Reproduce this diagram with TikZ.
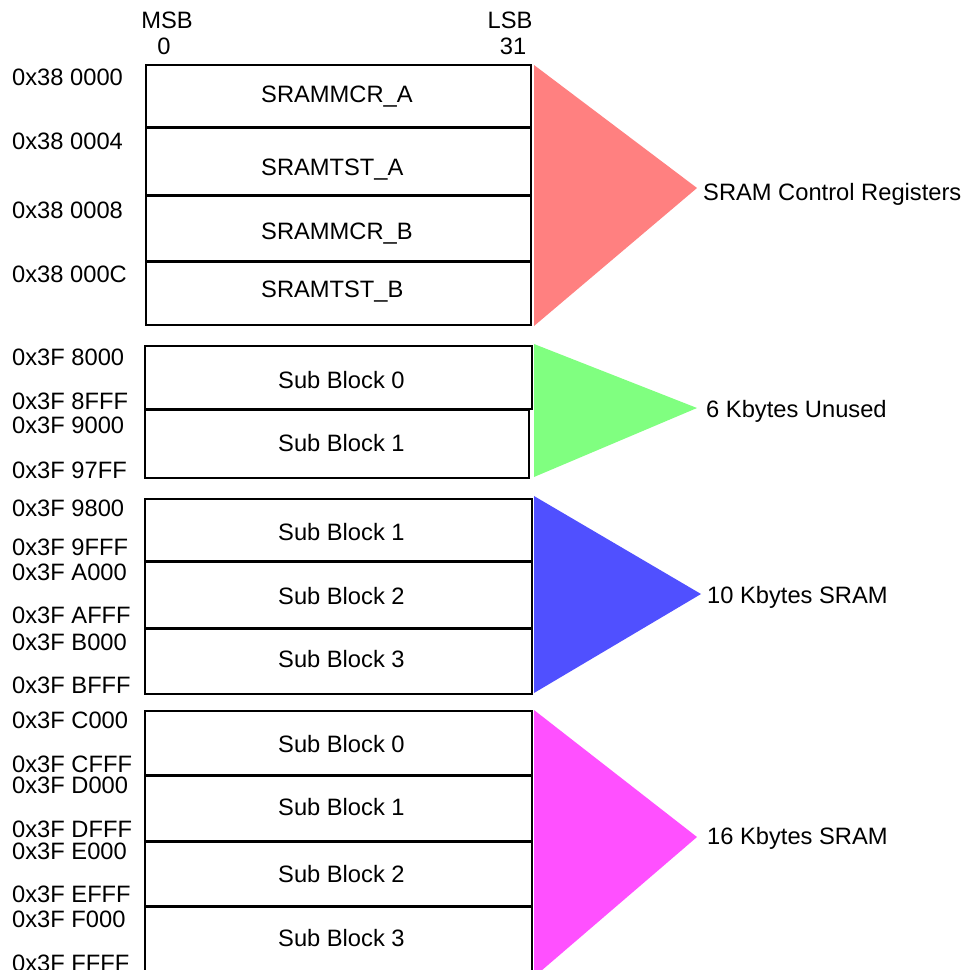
\documentclass[tikz,border=0pt]{standalone}
\usepackage{fontspec}
\setmainfont{Liberation Sans}
\definecolor{tred}{HTML}{FF8080}
\definecolor{tgreen}{HTML}{80FF80}
\definecolor{tblue}{HTML}{5050FF}
\definecolor{tmag}{HTML}{FF50FF}
\tikzset{
  cellline/.style={draw=black, line width=2pt},
  txt/.style={font=\fontsize{23.7}{28}\selectfont, inner sep=0pt, text height=17pt, text depth=0pt},
  addr/.style={txt, anchor=west},
  side/.style={txt, anchor=west},
  reg/.style={txt, anchor=west},
}
\begin{document}
\begin{tikzpicture}[x=1pt,y=-1pt]
\useasboundingbox (0,0) rectangle (968,970);
\clip (0,0) rectangle (968,970);
\fill[white] (0,0) rectangle (968,970);

% header
\node[txt] (msb) at (167,20) {MSB};
\node[txt] (bit0) at (164,46) {0};
\node[txt] (lsb) at (510,20) {LSB};
\node[txt] (bit31) at (513,46) {31};

% triangles
\fill[tred] (534,65) -- (697,188) -- (534,326) -- cycle;
\fill[tgreen] (534,344) -- (697,408) -- (534,477) -- cycle;
\fill[tblue] (534,496) -- (701,594) -- (534,693) -- cycle;
\fill[tmag] (534,710) -- (697,837) -- (534,977) -- cycle;

% section 1: control registers
\draw[cellline] (146,65) rectangle (531,127);
\draw[cellline] (146,128) rectangle (531,195);
\draw[cellline] (146,196) rectangle (531,261);
\draw[cellline] (146,262) rectangle (531,325);
\node[reg] (r1) at (261,94) {SRAMMCR\_A};
\node[reg] (r2) at (261,167) {SRAMTST\_A};
\node[reg] (r3) at (261,231) {SRAMMCR\_B};
\node[reg] (r4) at (261,289) {SRAMTST\_B};

% section 2: unused
\draw[cellline] (145,346) rectangle (532,409);
\draw[cellline] (145,410) rectangle (529,478);
\node[reg] (u0) at (278,380) {Sub Block 0};
\node[reg] (u1) at (278,443) {Sub Block 1};

% section 3: 10K
\draw[cellline] (145,499) rectangle (532,561);
\draw[cellline] (145,562) rectangle (532,628);
\draw[cellline] (145,629) rectangle (532,694);
\node[reg] (a1) at (278,532) {Sub Block 1};
\node[reg] (a2) at (278,596) {Sub Block 2};
\node[reg] (a3) at (278,659) {Sub Block 3};

% section 4: 16K
\draw[cellline] (145,711) rectangle (532,775);
\draw[cellline] (145,776) rectangle (532,841);
\draw[cellline] (145,842) rectangle (532,906);
\draw[cellline] (145,907) rectangle (532,985);
\node[reg] (b0) at (278,744) {Sub Block 0};
\node[reg] (b1) at (278,807) {Sub Block 1};
\node[reg] (b2) at (278,874) {Sub Block 2};
\node[reg] (b3) at (278,938) {Sub Block 3};

% addresses
\node[addr] (ad1) at (12,77) {0x38 0000};
\node[addr] (ad2) at (12,141) {0x38 0004};
\node[addr] (ad3) at (12,210) {0x38 0008};
\node[addr] (ad4) at (12,274) {0x38 000C};
\node[addr] (ad5) at (12,357) {0x3F 8000};
\node[addr] (ad6) at (12,401) {0x3F 8FFF};
\node[addr] (ad7) at (12,425) {0x3F 9000};
\node[addr] (ad8) at (12,470) {0x3F 97FF};
\node[addr] (ad9) at (12,508) {0x3F 9800};
\node[addr] (ad10) at (12,547) {0x3F 9FFF};
\node[addr] (ad11) at (12,572) {0x3F A000};
\node[addr] (ad12) at (12,615) {0x3F AFFF};
\node[addr] (ad13) at (12,642) {0x3F B000};
\node[addr] (ad14) at (12,685) {0x3F BFFF};
\node[addr] (ad15) at (12,720) {0x3F C000};
\node[addr] (ad16) at (12,764) {0x3F CFFF};
\node[addr] (ad17) at (12,785) {0x3F D000};
\node[addr] (ad18) at (12,829) {0x3F DFFF};
\node[addr] (ad19) at (12,851) {0x3F E000};
\node[addr] (ad20) at (12,894) {0x3F EFFF};
\node[addr] (ad21) at (12,919) {0x3F F000};
\node[addr] (ad22) at (12,963) {0x3F FFFF};

% side labels
\node[side] (s1) at (703,192) {SRAM Control Registers};
\node[side] (s2) at (706,408.5) {6 Kbytes Unused};
\node[side] (s3) at (707,595) {10 Kbytes SRAM};
\node[side] (s4) at (707,836) {16 Kbytes SRAM};
\end{tikzpicture}
\end{document}
